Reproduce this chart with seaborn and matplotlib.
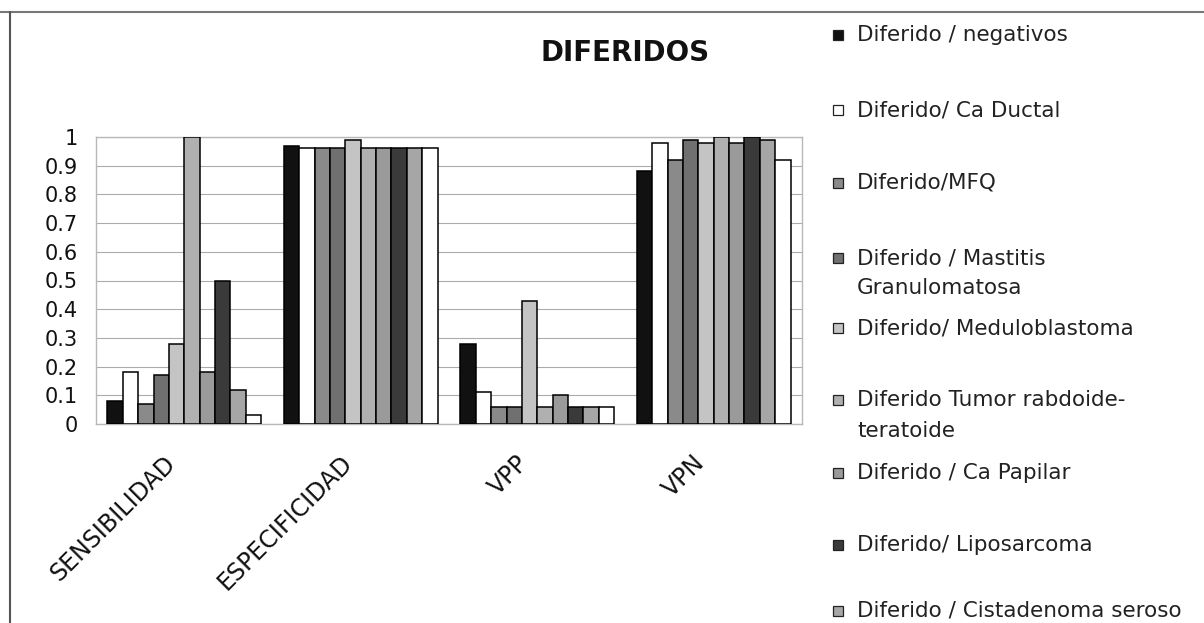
import matplotlib
matplotlib.use("Agg")
import matplotlib.pyplot as plt
import matplotlib.transforms as mtransforms
from matplotlib.patches import Rectangle
from matplotlib.lines import Line2D
import numpy as np
import pandas as pd
import seaborn as sns

# ---------------- data ----------------
categories = ["SENSIBILIDAD", "ESPECIFICIDAD", "VPP", "VPN"]

series_names = [
    "Diferido / negativos",
    "Diferido/ Ca Ductal",
    "Diferido/MFQ",
    "Diferido / Mastitis Granulomatosa",
    "Diferido/ Meduloblastoma",
    "Diferido Tumor rabdoide-teratoide",
    "Diferido / Ca Papilar",
    "Diferido/ Liposarcoma",
    "Diferido / Cistadenoma seroso",
    "Serie 10",
]

negativos = [0.08, 0.97, 0.28, 0.88]
ca_ductal = [0.18, 0.96, 0.11, 0.98]
mfq = [0.07, 0.96, 0.06, 0.92]
mastitis = [0.17, 0.96, 0.06, 0.99]
meduloblastoma = [0.28, 0.99, 0.43, 0.98]
tumor_rabdoide = [1.00, 0.96, 0.06, 1.00]
ca_papilar = [0.18, 0.96, 0.10, 0.98]
liposarcoma = [0.50, 0.96, 0.06, 1.00]
cistadenoma = [0.12, 0.96, 0.06, 0.99]
serie10 = [0.03, 0.96, 0.06, 0.92]

series_values = [negativos, ca_ductal, mfq, mastitis, meduloblastoma,
                 tumor_rabdoide, ca_papilar, liposarcoma, cistadenoma, serie10]

y_ticks = [0, 0.1, 0.2, 0.3, 0.4, 0.5, 0.6, 0.7, 0.8, 0.9, 1]
y_tick_labels = ["0", "0.1", "0.2", "0.3", "0.4", "0.5", "0.6", "0.7", "0.8", "0.9", "1"]

# legend texts as shown (wrapped)
legend_lines = [
    ["Diferido / negativos"],
    ["Diferido/ Ca Ductal"],
    ["Diferido/MFQ"],
    ["Diferido / Mastitis", "Granulomatosa"],
    ["Diferido/ Meduloblastoma"],
    ["Diferido Tumor rabdoide-", "teratoide"],
    ["Diferido / Ca Papilar"],
    ["Diferido/ Liposarcoma"],
    ["Diferido / Cistadenoma seroso"],
]

# ---------------- style ----------------
colors = ["#111111", "#ffffff", "#8a8a8a", "#707070", "#c4c4c4",
          "#b0b0b0", "#9a9a9a", "#3a3a3a", "#a6a6a6", "#ffffff"]

W, H = 1204, 623
sns.set_theme(style="white")
plt.rcParams["font.family"] = ["DejaVu Sans"]

fig = plt.figure(figsize=(W / 100, H / 100), dpi=100)
fig.patch.set_facecolor("white")

def px_x(x):
    return x / W

def px_y(y):
    return 1 - y / H

ax_l, ax_r, ax_t, ax_b = 96, 802, 137, 424
ax = fig.add_axes([px_x(ax_l), px_y(ax_b), (ax_r - ax_l) / W, (ax_b - ax_t) / H])

rows = []
for name, vals in zip(series_names, series_values):
    for cat, v in zip(categories, vals):
        rows.append({"cat": cat, "serie": name, "val": v})
df = pd.DataFrame(rows)
df["cat"] = pd.Categorical(df["cat"], categories=categories, ordered=True)
df["serie"] = pd.Categorical(df["serie"], categories=series_names, ordered=True)

sns.barplot(data=df, x="cat", y="val", hue="serie", hue_order=series_names,
            order=categories, palette=colors, width=0.87, saturation=1,
            edgecolor="black", linewidth=1.1, legend=False, ax=ax, zorder=3)

ax.set_ylim(0, 1)
ax.set_xlim(-0.5, len(categories) - 0.5)
ax.set_yticks(y_ticks)
ax.set_yticklabels(y_tick_labels, fontsize=15, color="#111111")
ax.tick_params(axis="y", length=0, pad=13)
ax.set_xlabel("")
ax.set_ylabel("")
ax.set_xticks(range(len(categories)))
ax.set_xticklabels([])
ax.tick_params(axis="x", length=0)
ax.yaxis.grid(True, color="#ababab", linewidth=0.8, zorder=0)
ax.xaxis.grid(False)
ax.set_axisbelow(True)
for s in ax.spines.values():
    s.set_color("#b8b8b8")
    s.set_linewidth(1.0)
ax.set_facecolor("white")

# rotated category labels
blend = mtransforms.blended_transform_factory(ax.transData, ax.transAxes)
off = mtransforms.ScaledTranslation(-21 / 100, -27 / 100, fig.dpi_scale_trans)
for i, cat in enumerate(categories):
    ax.text(i, 0, cat, transform=blend + off, rotation=45, ha="right", va="top",
            rotation_mode="anchor", fontsize=17, color="#111111")

# title
fig.text(px_x(625), px_y(53), "DIFERIDOS", ha="center", va="center",
         fontsize=20, fontweight="bold", color="#111111")

# legend (manual, as in the original which is cut at the bottom)
entry_y = [35, 110, 183, 258, 328, 400, 473, 545, 611]
second_y = {3: 288, 5: 431}
for i, lines in enumerate(legend_lines):
    y = entry_y[i]
    fig.patches.append(Rectangle((px_x(833), px_y(y + 5)), 10 / W, 10 / H,
                                 transform=fig.transFigure, facecolor=colors[i],
                                 edgecolor="#222222", linewidth=0.9))
    fig.text(px_x(857), px_y(y), lines[0], ha="left", va="center",
             fontsize=15.5, color="#222222")
    if len(lines) > 1:
        fig.text(px_x(857), px_y(second_y[i]), lines[1], ha="left", va="center",
                 fontsize=15.5, color="#222222")

# outer chart border (left and top)
fig.lines.append(Line2D([px_x(0), px_x(W)], [px_y(12), px_y(12)],
                        transform=fig.transFigure, color="#777777", linewidth=1.5))
fig.lines.append(Line2D([px_x(10), px_x(10)], [px_y(12), px_y(H)],
                        transform=fig.transFigure, color="#555555", linewidth=1.5))

fig.savefig("out.png", dpi=100, facecolor="white")
